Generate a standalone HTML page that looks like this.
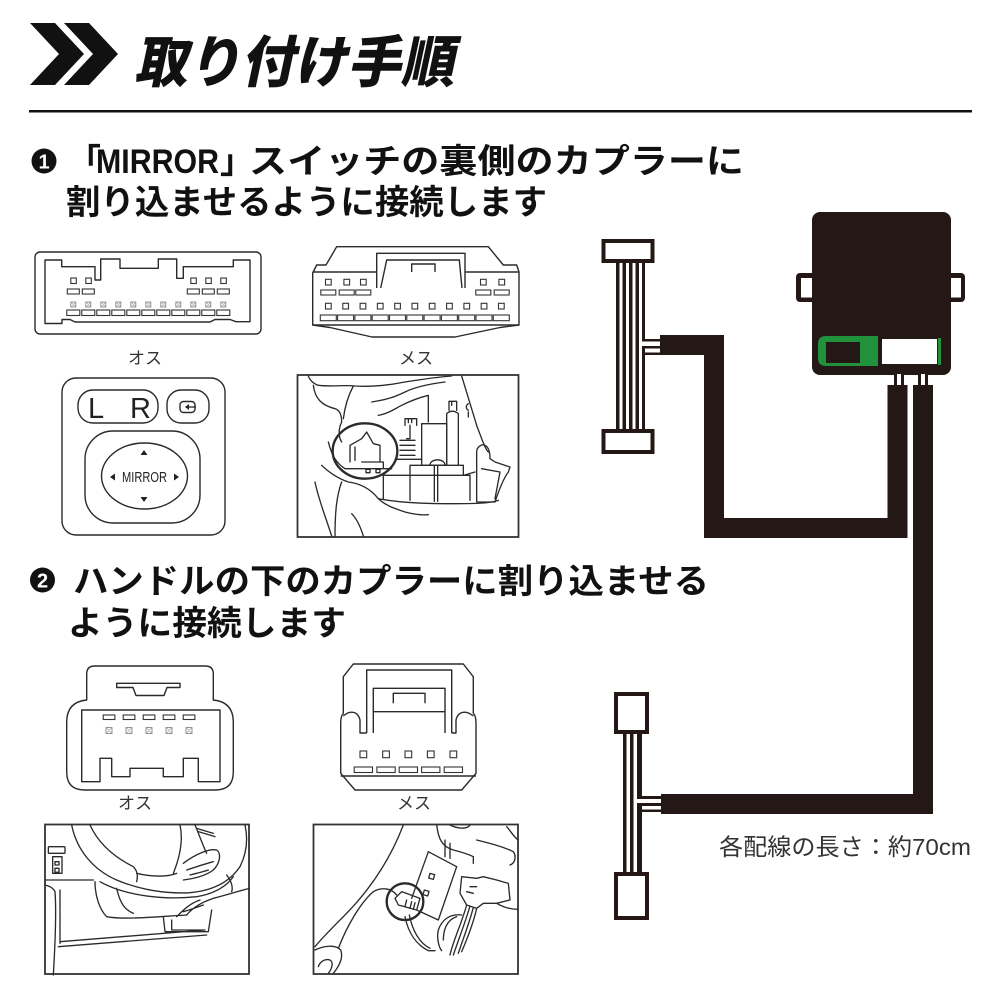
<!DOCTYPE html>
<html><head><meta charset="utf-8">
<style>
html,body{margin:0;padding:0;background:#fff;}
svg{display:block;}
.h{font-family:"Liberation Sans","Noto Sans CJK JP",sans-serif;font-weight:700;fill:#111;font-size:34px;}
.lb{font-family:"Liberation Sans","Noto Sans CJK JP",sans-serif;font-weight:400;fill:#333;font-size:17px;}
.ln{fill:none;stroke:#2a2a2a;stroke-width:1.4;stroke-linejoin:round;}
.pn{fill:#fff;stroke:#333;stroke-width:1.1;}
.xb{fill:#fff;stroke:#888;stroke-width:0.9;}
.ph{fill:none;stroke:#2a2a2a;stroke-width:4;stroke-linejoin:round;stroke-linecap:round;}
</style></head><body>
<svg width="1000" height="1000" viewBox="0 0 1000 1000" xmlns="http://www.w3.org/2000/svg">
<rect width="1000" height="1000" fill="#fff"/>

<!-- Header -->
<polygon points="30,23 55,23 84,54 55,85 30,85 59,54" fill="#111"/>
<polygon points="64,23 89,23 118,54 89,85 64,85 93,54" fill="#111"/>
<g transform="translate(134,82) skewX(-12)">
<text x="0" y="0" font-family="'Liberation Sans','Noto Sans CJK JP',sans-serif" font-weight="900" font-size="56" fill="#111" textLength="320" lengthAdjust="spacingAndGlyphs">取り付け手順</text>
</g>
<rect x="29" y="110" width="943" height="2.5" fill="#111"/>

<!-- Section 1 heading -->
<circle cx="44" cy="161" r="12.5" fill="#111"/>
<text x="44" y="168.5" text-anchor="middle" font-family="'Liberation Sans',sans-serif" font-weight="700" font-size="20" fill="#fff">1</text>
<text class="h" x="67" y="173" font-size="35">「</text>
<text class="h" x="96" y="173" font-size="35" textLength="123" lengthAdjust="spacingAndGlyphs">MIRROR</text>
<text class="h" x="220" y="173" font-size="35">」</text>
<text class="h" x="249" y="173" font-size="35" textLength="495" lengthAdjust="spacingAndGlyphs">スイッチの裏側のカプラーに</text>
<text class="h" x="66" y="214" font-size="35" textLength="481" lengthAdjust="spacingAndGlyphs">割り込ませるように接続します</text>

<!-- Connector オス 1 -->
<rect x="35" y="252" width="226" height="82" rx="5" class="ln" stroke-width="1.6"/>
<path class="ln" d="M45,260 H61.7 V266.7 H95 V280 H100.7 V259 H120 V268.3 H158.3 V259 H176.7 V278.3 H183.3 V266.7 H233.3 V260 H250 V321.7 H236 L230,319.5 H215 L210,322 H75 L70,319.5 H62 V323.5 H45 Z"/>
<g>
<rect class="pn" x="70.8" y="278" width="5.5" height="5.5"/><rect class="pn" x="85.8" y="278" width="5.5" height="5.5"/>
<rect class="pn" x="190.8" y="278" width="5.5" height="5.5"/><rect class="pn" x="205.8" y="278" width="5.5" height="5.5"/><rect class="pn" x="220.8" y="278" width="5.5" height="5.5"/>
<rect class="pn" x="67.3" y="289" width="12" height="5"/><rect class="pn" x="82.3" y="289" width="12" height="5"/>
<rect class="pn" x="187.3" y="289" width="12" height="5"/><rect class="pn" x="202.3" y="289" width="12" height="5"/><rect class="pn" x="217.3" y="289" width="12" height="5"/>
</g>
<g>
<rect class="xb" x="70.8" y="302" width="5" height="5"/><rect class="xb" x="85.8" y="302" width="5" height="5"/><rect class="xb" x="100.8" y="302" width="5" height="5"/><rect class="xb" x="115.8" y="302" width="5" height="5"/><rect class="xb" x="130.8" y="302" width="5" height="5"/><rect class="xb" x="145.8" y="302" width="5" height="5"/><rect class="xb" x="160.8" y="302" width="5" height="5"/><rect class="xb" x="175.8" y="302" width="5" height="5"/><rect class="xb" x="190.8" y="302" width="5" height="5"/><rect class="xb" x="205.8" y="302" width="5" height="5"/><rect class="xb" x="220.8" y="302" width="5" height="5"/>
<path stroke="#999" stroke-width="0.6" d="M71,302 l5,5 m0,-5 l-5,5 M86,302 l5,5 m0,-5 l-5,5 M101,302 l5,5 m0,-5 l-5,5 M116,302 l5,5 m0,-5 l-5,5 M131,302 l5,5 m0,-5 l-5,5 M146,302 l5,5 m0,-5 l-5,5 M161,302 l5,5 m0,-5 l-5,5 M176,302 l5,5 m0,-5 l-5,5 M191,302 l5,5 m0,-5 l-5,5 M206,302 l5,5 m0,-5 l-5,5 M221,302 l5,5 m0,-5 l-5,5"/>
<rect class="pn" x="66.8" y="310" width="13" height="5.5"/><rect class="pn" x="81.8" y="310" width="13" height="5.5"/><rect class="pn" x="96.8" y="310" width="13" height="5.5"/><rect class="pn" x="111.8" y="310" width="13" height="5.5"/><rect class="pn" x="126.8" y="310" width="13" height="5.5"/><rect class="pn" x="141.8" y="310" width="13" height="5.5"/><rect class="pn" x="156.8" y="310" width="13" height="5.5"/><rect class="pn" x="171.8" y="310" width="13" height="5.5"/><rect class="pn" x="186.8" y="310" width="13" height="5.5"/><rect class="pn" x="201.8" y="310" width="13" height="5.5"/><rect class="pn" x="216.8" y="310" width="13" height="5.5"/>
</g>
<text class="lb" x="145" y="364" text-anchor="middle">オス</text>

<!-- Connector メス 1 -->
<path class="ln" stroke-width="1.6" d="M312.7,273 L316.7,265 H326 L336.7,246.7 H488.3 L503.3,265 H516.7 L519,272 V325 L500,327.5 L455,337 H372 L330,327.5 L312.7,325 Z"/>
<path class="ln" d="M312.7,272 H376.7 M465,272 H519 M376.7,288 V253.3 H465 V288 M380.7,288 L386.7,260 H459.3 L462,288 M411.7,272 V264 H435 V272 M312.7,325 H519"/>
<g>
<rect class="pn" x="325.5" y="279.3" width="5.7" height="5.7"/><rect class="pn" x="343.9" y="279.3" width="5.7" height="5.7"/><rect class="pn" x="360.5" y="279.3" width="5.7" height="5.7"/><rect class="pn" x="480.5" y="279.3" width="5.7" height="5.7"/><rect class="pn" x="498.9" y="279.3" width="5.7" height="5.7"/>
<rect class="pn" x="320.8" y="290" width="15" height="5"/><rect class="pn" x="339.2" y="290" width="15" height="5"/><rect class="pn" x="355.8" y="290" width="15" height="5"/><rect class="pn" x="475.8" y="290" width="15" height="5"/><rect class="pn" x="494.2" y="290" width="15" height="5"/>
<rect class="pn" x="325.5" y="303.3" width="5.7" height="5.7"/><rect class="pn" x="342.8" y="303.3" width="5.7" height="5.7"/><rect class="pn" x="360.1" y="303.3" width="5.7" height="5.7"/><rect class="pn" x="377.4" y="303.3" width="5.7" height="5.7"/><rect class="pn" x="394.7" y="303.3" width="5.7" height="5.7"/><rect class="pn" x="412" y="303.3" width="5.7" height="5.7"/><rect class="pn" x="429.3" y="303.3" width="5.7" height="5.7"/><rect class="pn" x="446.6" y="303.3" width="5.7" height="5.7"/><rect class="pn" x="463.9" y="303.3" width="5.7" height="5.7"/><rect class="pn" x="481.2" y="303.3" width="5.7" height="5.7"/><rect class="pn" x="498.5" y="303.3" width="5.7" height="5.7"/>
<rect class="pn" x="320.3" y="315" width="16" height="5.7"/><rect class="pn" x="337.6" y="315" width="16" height="5.7"/><rect class="pn" x="354.9" y="315" width="16" height="5.7"/><rect class="pn" x="372.2" y="315" width="16" height="5.7"/><rect class="pn" x="389.5" y="315" width="16" height="5.7"/><rect class="pn" x="406.8" y="315" width="16" height="5.7"/><rect class="pn" x="424.1" y="315" width="16" height="5.7"/><rect class="pn" x="441.4" y="315" width="16" height="5.7"/><rect class="pn" x="458.7" y="315" width="16" height="5.7"/><rect class="pn" x="476" y="315" width="16" height="5.7"/><rect class="pn" x="493.3" y="315" width="16" height="5.7"/>
</g>
<text class="lb" x="416" y="364" text-anchor="middle">メス</text>

<!-- Mirror switch -->
<rect x="62" y="378" width="163" height="157" rx="14" class="ln" stroke-width="1.9"/>
<rect x="78" y="390" width="80" height="33" rx="15" class="ln" stroke-width="1.6"/>
<rect x="167" y="390" width="42" height="33" rx="14" class="ln" stroke-width="1.6"/>
<text x="88" y="418" font-family="'Liberation Sans',sans-serif" font-size="29" fill="#222">L</text>
<text x="130" y="418" font-family="'Liberation Sans',sans-serif" font-size="29" fill="#222">R</text>
<rect x="180" y="401.5" width="15" height="11" rx="3.5" class="ln" stroke-width="1.4"/>
<path d="M196,407 H186" stroke="#222" stroke-width="1.3" fill="none"/>
<path d="M185,407 L189,404 L189,410 Z" fill="#222"/>
<rect x="85" y="431" width="115" height="92" rx="28" class="ln" stroke-width="2"/>
<ellipse cx="144.5" cy="476" rx="43" ry="33" class="ln" stroke-width="1"/>
<text x="144.5" y="482" text-anchor="middle" font-family="'Liberation Sans',sans-serif" font-size="15" fill="#222" textLength="45" lengthAdjust="spacingAndGlyphs">MIRROR</text>
<path d="M144,450 l-3.5,5 h7 Z M144,502 l-3.5,-5 h7 Z M110,477 l5,-3.5 v7 Z M179,477 l-5,-3.5 v7 Z" fill="#222"/>

<!-- Photo 1 -->
<rect x="297.5" y="375" width="221" height="162" fill="none" stroke="#333" stroke-width="1.8"/>
<g transform="translate(295,372) scale(0.33333)" class="ph">
<path d="M40,12 C45,25 55,35 70,40 C110,45 150,38 180,42 C230,45 280,40 330,30 C380,22 430,15 470,12"/>
<path d="M55,40 C60,80 80,100 120,110 C135,115 140,130 140,150 M175,42 C160,70 150,100 145,140 M140,150 C130,170 130,195 140,210"/>
<path d="M230,90 C260,85 290,80 330,60 C360,45 410,35 450,30 M250,130 C280,125 300,110 320,100 C350,85 380,75 400,70 M400,70 V150"/>
<path d="M100,210 C110,250 125,275 150,290 M80,280 C100,300 130,320 160,330 C200,335 230,355 250,380 C270,400 300,410 330,420 C360,428 380,430 400,428"/>
<path d="M250,380 C330,395 420,395 480,395 C530,395 580,395 610,385 M140,330 C125,370 120,420 120,492 M205,492 C195,460 185,440 170,425 M60,330 C70,380 90,430 110,492"/>
<path d="M500,12 C515,60 530,110 545,160 C560,200 570,230 580,240 M520,95 C512,100 512,110 520,115 M520,120 V135"/>
<path d="M330,160 V140 H365 V160 M340,140 V152 M350,140 V152 M345,160 V200 H335 M315,205 H360 M315,220 H360 M315,235 H360 M315,250 H360 M300,262 H380"/>
<rect x="380" y="155" width="75" height="125"/>
<path d="M455,280 V125 Q472,110 490,125 V280 M462,115 V88 H485 V115 M470,88 V100"/>
<path d="M345,280 V310 M345,280 H505 V310 M405,280 C405,258 450,258 450,280 M265,310 H525 V385 M265,310 V380 M345,310 V385 M418,280 V388 M428,280 V388 M505,310 L540,300"/>
<path d="M545,390 V240 C545,225 560,215 570,220 C580,225 585,240 585,260 L600,270 L645,285 L640,300 C625,320 610,360 600,390 Z M560,290 L615,300 L600,380"/>
<ellipse cx="210" cy="237" rx="97" ry="83" stroke-width="7"/>
<path d="M165,270 V220 L200,200 L215,180 L235,215 L255,220 V270 M200,270 H265 V290 M150,290 H290 M180,225 V265"/>
<rect x="213" y="292" width="12" height="10"/><rect x="243" y="292" width="12" height="10"/>
</g>

<!-- Section 2 heading -->
<circle cx="42.5" cy="580" r="12.5" fill="#111"/>
<text x="42.5" y="587.5" text-anchor="middle" font-family="'Liberation Sans',sans-serif" font-weight="700" font-size="20" fill="#fff">2</text>
<text class="h" x="73" y="593" font-size="35" textLength="636" lengthAdjust="spacingAndGlyphs">ハンドルの下のカプラーに割り込ませる</text>
<text class="h" x="68" y="635" font-size="35" textLength="278" lengthAdjust="spacingAndGlyphs">ように接続します</text>

<!-- Connector オス 2 -->
<path class="ln" stroke-width="1.6" d="M86.7,700 V674 Q86.7,666 94.7,666 H205.3 Q213.3,666 213.3,674 V700 Q233.3,702 233.3,722 V772 Q233.3,790 215.3,790 H84.7 Q66.7,790 66.7,772 V722 Q66.7,702 86.7,700 Z"/>
<path class="ln" d="M81.7,710 H220 V781.7 H198.3 V758.3 H183.3 V776.7 H163.3 V768.3 H130 V776.7 H111.7 V758.3 H100 V781.7 H81.7 Z"/>
<path class="ln" d="M116.7,683.3 H180 V687.5 H167 L164,695.5 H136 L133,687.5 H116.7 Z"/>
<rect class="pn" x="103.2" y="715" width="11.7" height="4.5"/><rect class="pn" x="123.2" y="715" width="11.7" height="4.5"/><rect class="pn" x="143.2" y="715" width="11.7" height="4.5"/><rect class="pn" x="163.2" y="715" width="11.7" height="4.5"/><rect class="pn" x="183.2" y="715" width="11.7" height="4.5"/>
<rect class="xb" x="106" y="727.5" width="6" height="6"/><rect class="xb" x="126" y="727.5" width="6" height="6"/><rect class="xb" x="146" y="727.5" width="6" height="6"/><rect class="xb" x="166" y="727.5" width="6" height="6"/><rect class="xb" x="186" y="727.5" width="6" height="6"/>
<path stroke="#999" stroke-width="0.6" d="M106,727.5 l6,6 m0,-6 l-6,6 M126,727.5 l6,6 m0,-6 l-6,6 M146,727.5 l6,6 m0,-6 l-6,6 M166,727.5 l6,6 m0,-6 l-6,6 M186,727.5 l6,6 m0,-6 l-6,6"/>
<text class="lb" x="135" y="809" text-anchor="middle">オス</text>

<!-- Connector メス 2 -->
<path class="ln" stroke-width="1.6" d="M353.3,664 H463.3 L473.3,676.7 V713.3 Q476,716 476,723.3 V773.3 L461.7,790 H355 L340.7,773.3 V723.3 Q340.7,716 343.3,713.3 V676.7 Z"/>
<path class="ln" d="M340.7,776 H476 M366.7,733 V670 H451.7 V733 M373.3,733 V688.3 H445 V733 M373.3,711.7 H445 M393.3,703.3 V693.3 H425 V703.3 M343.3,716 C350,710 358,711 360,720 V733 H366.7 M473.3,716 C466,710 458,711 456,720 V733 H451.7"/>
<rect class="pn" x="360" y="751" width="6.7" height="6.7"/><rect class="pn" x="382.7" y="751" width="6.7" height="6.7"/><rect class="pn" x="405" y="751" width="6.7" height="6.7"/><rect class="pn" x="427.4" y="751" width="6.7" height="6.7"/><rect class="pn" x="450" y="751" width="6.7" height="6.7"/>
<rect class="pn" x="354.2" y="767" width="18.3" height="5.5"/><rect class="pn" x="376.9" y="767" width="18.3" height="5.5"/><rect class="pn" x="399.2" y="767" width="18.3" height="5.5"/><rect class="pn" x="421.6" y="767" width="18.3" height="5.5"/><rect class="pn" x="444.2" y="767" width="18.3" height="5.5"/>
<text class="lb" x="414" y="809" text-anchor="middle">メス</text>

<!-- Photo 3 -->
<rect x="45" y="824.5" width="204" height="149.5" fill="none" stroke="#333" stroke-width="1.8"/>
<g transform="translate(40,820) scale(0.33333)" class="ph">
<path d="M95,15 C110,90 160,150 230,180 C300,210 380,222 450,218 C520,212 570,185 600,140 C620,100 625,60 615,15"/>
<path d="M150,15 C175,70 220,110 280,140 C290,150 295,165 290,185 M290,160 C330,170 380,172 410,160 M420,15 C430,60 420,110 400,160 M465,15 C480,50 490,80 500,100"/>
<path d="M430,130 C470,100 510,85 530,90 C545,100 540,130 520,150 C500,165 470,175 430,180 M440,150 C470,140 500,130 520,125 M450,165 C470,160 490,155 505,150 M470,25 L520,40 M475,35 L525,50"/>
<path d="M165,185 C165,230 180,270 200,290 C250,300 350,290 440,285 M230,205 C240,250 255,270 280,280 M180,185 C260,230 380,240 470,230 C520,222 560,200 580,170"/>
<path d="M440,285 C460,260 490,245 520,235 C560,225 590,215 628,205 M410,290 C430,270 450,250 480,240 M430,275 C450,270 470,262 490,255 M560,165 C575,185 580,200 575,215"/>
<path d="M15,180 H160 M15,195 C30,198 40,205 45,215 M45,215 C50,280 45,380 40,465 M60,210 V370 M55,380 L500,345 M60,365 L495,330 M370,290 L375,335 H505 L515,270 M395,300 V330 H495"/>
<rect x="25" y="80" width="50" height="20" rx="3"/><rect x="38" y="110" width="28" height="50"/><rect x="45" y="125" width="12" height="10"/><rect x="45" y="145" width="12" height="12"/>
</g>

<!-- Photo 4 -->
<rect x="313.5" y="824.5" width="204.5" height="149.5" fill="none" stroke="#333" stroke-width="1.8"/>
<g transform="translate(310,820) scale(0.33333)" class="ph">
<path d="M280,15 C240,120 180,210 100,290 C60,330 35,355 15,380 M15,390 C40,378 75,372 92,390 C100,410 90,435 70,460 M25,440 C30,425 45,415 60,420 C72,428 65,448 55,460"/>
<path d="M85,385 C110,320 150,250 190,215 C215,200 245,205 260,225"/>
<circle cx="285" cy="245" r="55" stroke-width="7"/>
<path d="M355,95 L305,235 M440,140 L385,300 L320,270 M355,95 L440,140 M360,160 l14,4 l-4,14 l-14,-4 Z M343,210 l14,4 l-4,14 l-14,-4 Z"/>
<path d="M255,235 L275,215 L330,235 L320,270 L265,255 Z M290,240 L285,260 M305,245 L300,265 M315,248 L310,268"/>
<path d="M285,290 C295,340 320,375 355,392 H375 M298,285 C308,335 330,370 360,385"/>
<path d="M470,255 C455,310 430,360 420,405 M480,258 C465,310 445,360 430,405 M490,262 C478,310 458,360 445,400 M500,265 C490,310 470,360 455,395 M455,285 C420,280 395,300 385,330 C380,350 385,380 395,392 M440,290 C410,300 400,330 400,360"/>
<path d="M380,15 C385,55 395,80 430,90 M420,15 C440,25 470,30 480,15 M430,90 C450,95 470,100 490,110 L490,130 M405,110 V60 M420,115 V70"/>
<path d="M500,60 C540,70 580,80 610,95 C620,110 615,130 600,135 M590,20 C600,30 610,50 625,60"/>
<path d="M455,170 L500,175 L520,170 L560,180 L595,190 L600,240 L560,250 L520,250 L500,265 L470,255 L450,220 Z M560,250 C580,262 600,268 625,268 M480,200 H500 M470,215 L490,220"/>
</g>

<!-- Right diagram: module box -->
<rect x="796" y="273" width="20" height="29" rx="4" fill="#231815"/>
<rect x="801" y="278" width="12" height="19.5" fill="#fff"/>
<rect x="946" y="273" width="19" height="29" rx="4" fill="#231815"/>
<rect x="950.5" y="278" width="10.5" height="19.5" fill="#fff"/>
<rect x="812" y="212" width="139" height="163" rx="8" fill="#231815"/>
<path d="M826,336 H878 V366 H826 Q818,366 818,358 V344 Q818,336 826,336 Z" fill="#22913c"/>
<rect x="826" y="342" width="34" height="21" fill="#231815"/>
<rect x="882" y="339" width="55" height="25" fill="#fff"/>
<rect x="938" y="338" width="3" height="27" fill="#22913c"/>

<!-- thin wires from box -->
<rect x="894" y="374" width="10" height="12" fill="#231815"/>
<rect x="897" y="374" width="4" height="12" fill="#fff"/>
<rect x="918" y="374" width="10" height="12" fill="#231815"/>
<rect x="921" y="374" width="4" height="12" fill="#fff"/>

<!-- thick cables -->
<path d="M660,345 H714 V528 H897.5 V385" fill="none" stroke="#231815" stroke-width="20" stroke-linejoin="miter"/>
<path d="M923,385 V804 H661" fill="none" stroke="#231815" stroke-width="20" stroke-linejoin="miter"/>

<!-- top-left harness -->
<rect x="616" y="261" width="29" height="170" fill="#231815"/>
<rect x="619.5" y="261" width="3" height="170" fill="#fff"/>
<rect x="626" y="261" width="3" height="170" fill="#fff"/>
<rect x="632.5" y="261" width="3" height="170" fill="#fff"/>
<rect x="639" y="261" width="3" height="170" fill="#fff"/>
<rect x="645" y="339" width="15" height="16" fill="#231815"/>
<rect x="642" y="341.5" width="18" height="4.5" fill="#fff"/>
<rect x="645" y="348.5" width="15" height="4" fill="#fff"/>
<rect x="603.5" y="241" width="49" height="20" fill="#fff" stroke="#231815" stroke-width="4"/>
<rect x="603.5" y="431" width="49" height="21" fill="#fff" stroke="#231815" stroke-width="4"/>

<!-- bottom-left harness -->
<rect x="623" y="732" width="19" height="142" fill="#231815"/>
<rect x="626.5" y="732" width="3.5" height="142" fill="#fff"/>
<rect x="633.5" y="732" width="3.5" height="142" fill="#fff"/>
<rect x="642" y="796" width="19" height="16" fill="#231815"/>
<rect x="637" y="799" width="24" height="4" fill="#fff"/>
<rect x="642" y="806" width="19" height="3.5" fill="#fff"/>
<rect x="616" y="694" width="31" height="38" fill="#fff" stroke="#231815" stroke-width="4"/>
<rect x="616" y="874" width="31" height="44" fill="#fff" stroke="#231815" stroke-width="4"/>

<text x="719" y="855" font-family="'Liberation Sans','Noto Sans CJK JP',sans-serif" font-size="23.5" fill="#333" textLength="252" lengthAdjust="spacingAndGlyphs">各配線の長さ：約70cm</text>
</svg>
</body></html>
